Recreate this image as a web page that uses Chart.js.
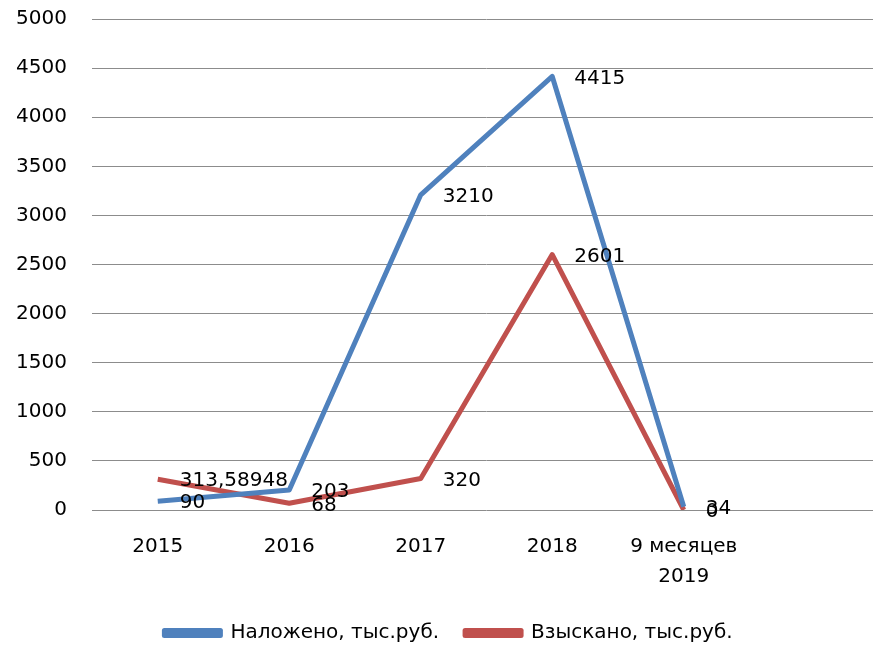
<!DOCTYPE html>
<html>
<head>
<meta charset="utf-8">
<script src="https://cdn.jsdelivr.net/npm/chart.js@4/dist/chart.umd.min.js"></script>
<style>
  html, body { margin: 0; padding: 0; background: #fff; }
  #wrap { width: 873px; height: 645px; overflow: hidden; }
</style>
</head>
<body>
<div id="wrap"><canvas id="myChart" width="882" height="645"></canvas></div>
<script>
// data
const categories = ['2015', '2016', '2017', '2018', ['9 месяцев', '2019'], ''];
const imposed = [90, 203, 3210, 4415, 34, null];      // Наложено, тыс.руб.
const collected = [313.58948, 68, 320, 2601, 0, null]; // Взыскано, тыс.руб.
const yTicks = [0, 500, 1000, 1500, 2000, 2500, 3000, 3500, 4000, 4500, 5000];

const FONT = 'DejaVu Sans';

// value labels to the right of each point, like Excel does
const valueLabels = {
  id: 'valueLabels',
  afterDatasetsDraw(chart) {
    const ctx = chart.ctx;
    ctx.save();
    ctx.font = '20px "' + FONT + '"';
    ctx.fillStyle = '#000';
    ctx.textAlign = 'left';
    ctx.textBaseline = 'middle';
    chart.data.datasets.forEach((ds, i) => {
      const meta = chart.getDatasetMeta(i);
      meta.data.forEach((pt, j) => {
        const v = ds.data[j];
        if (v === null || v === undefined) return;
        ctx.fillText(String(v).replace('.', ','), pt.x + 22, pt.y + 2);
      });
    });
    ctx.restore();
  }
};

const ctx = document.getElementById('myChart').getContext('2d');

var chart = new Chart(ctx, {
  type: 'line',
  data: {
    labels: categories,
    datasets: [{
      label: 'Наложено, тыс.руб.',
      data: imposed,
      borderColor: '#4f81bd',
      backgroundColor: '#4f81bd',
      borderWidth: 5,
      pointRadius: 0,
      tension: 0,
      borderJoinStyle: 'round'
    }, {
      label: 'Взыскано, тыс.руб.',
      data: collected,
      borderColor: '#c0504d',
      backgroundColor: '#c0504d',
      borderWidth: 5,
      pointRadius: 0,
      tension: 0,
      borderJoinStyle: 'round'
    }]
  },
  options: {
    responsive: false,
    animation: false,
    layout: {
      padding: { left: 16, top: 19, right: 1, bottom: -8 }
    },
    plugins: {
      tooltip: { enabled: false },
      legend: {
        position: 'bottom',
        labels: {
          color: '#000',
          font: { family: FONT, size: 20 },
          boxWidth: 56,
          boxHeight: 5,
          padding: 26
        }
      }
    },
    scales: {
      x: {
        offset: true,
        grid: { display: false },
        border: { display: false },
        ticks: {
          color: '#000',
          font: { family: FONT, size: 20, lineHeight: 1.5 },
          padding: 14,
          maxRotation: 0,
          autoSkip: false
        },
        afterFit(scale) {
          scale.paddingLeft = 0;
          scale.paddingRight = 0;
          scale.height -= 9;
        }
      },
      y: {
        min: 0,
        max: 5000,
        afterBuildTicks(axis) {
          axis.ticks = yTicks.map(v => ({ value: v }));
        },
        grid: { color: '#8c8c8c', lineWidth: 1, drawTicks: false },
        border: { display: false },
        ticks: {
          color: '#000',
          font: { family: FONT, size: 20 },
          padding: 25,
          callback: v => String(v)
        },
        afterFit(scale) {
          scale.width = 76;
          scale.paddingTop = 12;
          scale.paddingBottom = 12;
        }
      }
    }
  },
  plugins: [valueLabels]
});
</script>
</body>
</html>
